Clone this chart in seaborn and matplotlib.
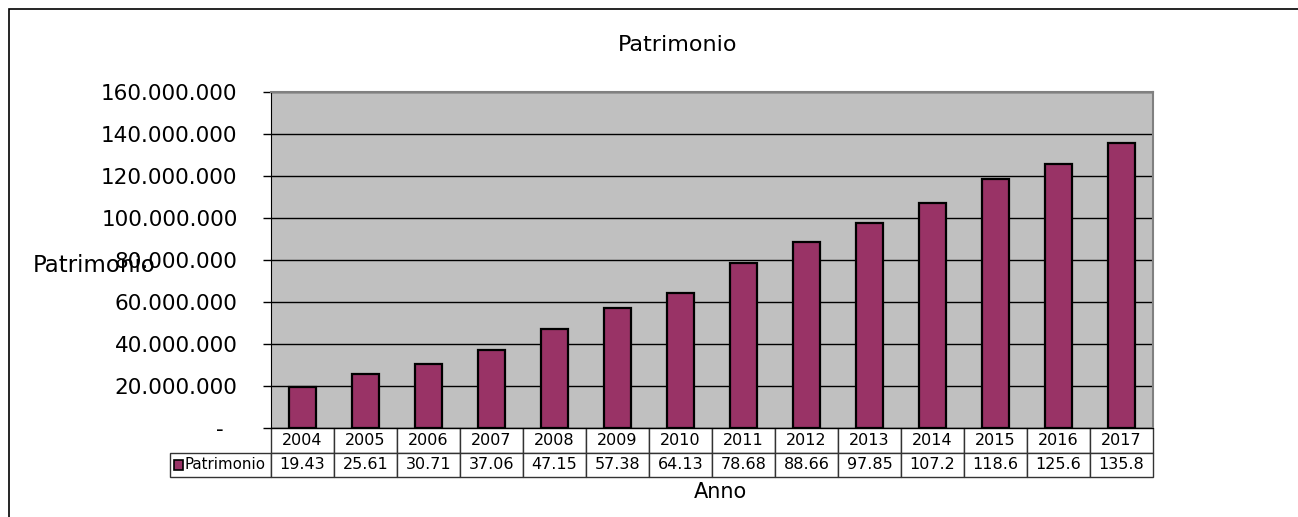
import matplotlib
matplotlib.use("Agg")
import matplotlib.pyplot as plt
import matplotlib.ticker as mticker
from matplotlib.patches import Rectangle
import pandas as pd
import seaborn as sns

years = ["2004", "2005", "2006", "2007", "2008", "2009", "2010",
         "2011", "2012", "2013", "2014", "2015", "2016", "2017"]
patrimonio_mln = [19.43, 25.61, 30.71, 37.06, 47.15, 57.38, 64.13,
                  78.68, 88.66, 97.85, 107.2, 118.6, 125.6, 135.8]
series_name = "Patrimonio"
bar_color = "#993366"

df = pd.DataFrame({"Anno": years, "Patrimonio": [v * 1e6 for v in patrimonio_mln]})

sns.set_style("white")
plt.rcParams["font.family"] = ["DejaVu Sans"]
plt.rcParams["text.color"] = "black"
plt.rcParams["axes.labelcolor"] = "black"
plt.rcParams["ytick.color"] = "black"
plt.rcParams["xtick.color"] = "black"

W, H = 1298, 517
fig = plt.figure(figsize=(W / 100, H / 100), dpi=100)
# plot area in pixels: x 271-1153, y 92-428
ax = fig.add_axes([271 / W, 1 - 428 / H, 882 / W, 336 / H])

# outer chart frame
fig.patches.append(Rectangle((9 / W, -0.1), 1.2, 1.1 - 9 / H, transform=fig.transFigure,
                             fill=False, edgecolor="black", linewidth=1.2))

sns.barplot(data=df, x="Anno", y="Patrimonio", color=bar_color, saturation=1,
            edgecolor="black", linewidth=1.6, width=0.42, ax=ax)

ax.set_facecolor("#C0C0C0")
ax.set_ylim(0, 160e6)
ax.set_xlim(-0.5, len(years) - 0.5)
ax.yaxis.set_major_locator(mticker.MultipleLocator(20e6))
ax.yaxis.set_major_formatter(mticker.FuncFormatter(
    lambda v, _: f"{int(round(v)):,}".replace(",", ".") if v > 0 else "-  "))
ax.set_axisbelow(True)
ax.yaxis.grid(True, color="black", linewidth=1)
ax.xaxis.grid(False)
ax.tick_params(axis="y", left=True, length=6, width=1, color="black", pad=18,
               labelsize=15.5, labelcolor="black")
ax.tick_params(axis="x", bottom=False, labelbottom=False)
for side in ["top", "right"]:
    ax.spines[side].set_color("#808080")
    ax.spines[side].set_linewidth(1.5)
ax.spines["left"].set_color("black")
ax.spines["bottom"].set_color("black")

ax.set_title("Patrimonio", x=0.4615, y=1.14, pad=0, va="center", fontsize=16)
ax.set_ylabel("Patrimonio", rotation=0, ha="left", va="center", fontsize=16.5)
ax.yaxis.set_label_coords(-0.2698, 0.485)
ax.set_xlabel("Anno", va="center", fontsize=15)
ax.xaxis.set_label_coords(0.510, -0.19)

# data table below the axis
label_w = 101 / 882
col_w = 1 / len(years)
tbl = ax.table(cellText=[[series_name] + [f"{v:.4g}" for v in patrimonio_mln]],
               colLabels=[""] + years,
               colWidths=[label_w] + [col_w] * len(years),
               cellLoc="center",
               bbox=[-label_w, -49 / 336, 1 + label_w, 49 / 336])
tbl.auto_set_font_size(False)
tbl.set_fontsize(11.5)
for (r, c), cell in tbl.get_celld().items():
    cell.set_edgecolor("#333333")
    cell.set_linewidth(1)
    cell.set_facecolor("white")
    cell.get_text().set_color("black")
tbl[0, 0].visible_edges = "open"
tbl[1, 0].set_text_props(ha="right", fontsize=10.8)
tbl[1, 0].PAD = 0.05

# legend key in the table
ax.add_patch(Rectangle((-0.1099, -0.125), 9 / 882, 10 / 336, transform=ax.transAxes,
                       facecolor=bar_color, edgecolor="black", linewidth=1.2,
                       clip_on=False, zorder=5))

fig.savefig("out.png", dpi=100)
